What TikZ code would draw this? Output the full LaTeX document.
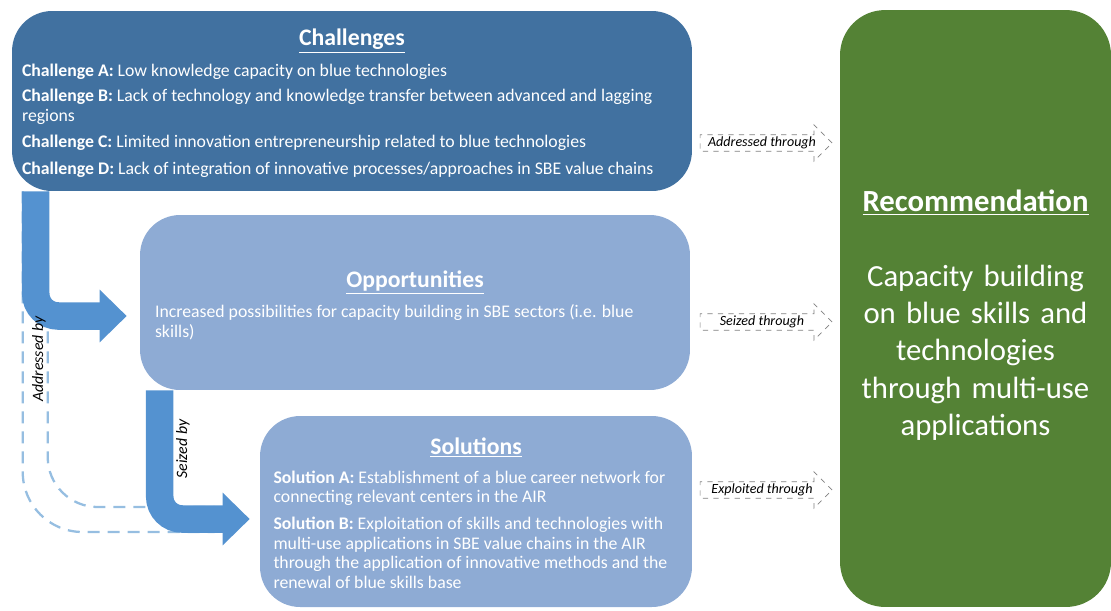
\documentclass[tikz,border=0pt]{standalone}
\usepackage{fontspec}
\setmainfont{Carlito}
\usepackage{xcolor}
\usepackage{tikz}
\usetikzlibrary{arrows.meta, calc, positioning, shapes.arrows}

\definecolor{chalblue}{RGB}{65,113,160}
\definecolor{lightbox}{RGB}{142,171,212}
\definecolor{arrowblue}{RGB}{84,146,208}
\definecolor{dashblue}{RGB}{150,190,225}
\definecolor{recgreen}{RGB}{84,130,53}

\newcommand{\boxtitle}[1]{{\centering\fontsize{13.5}{16}\selectfont\bfseries\underline{#1}\par}}

\tikzset{
  panel/.style={rounded corners=0.8cm, text=white, inner sep=0pt, align=flush left, font=\fontsize{10.1}{11.1}\selectfont},
  bigarrow/.style={draw=arrowblue, line width=0.55cm, rounded corners=0.45cm, -{Triangle[length=0.54cm, width=1.02cm]}},
  dashline/.style={draw=dashblue, line width=1.3pt, dash pattern=on 0.24cm off 0.16cm},
  thru/.style={single arrow, draw=gray, dashed, fill=white, minimum height=2.64cm, minimum width=0.4cm, single arrow head extend=0.2cm, inner sep=1pt, font=\fontsize{8}{9}\selectfont\itshape},
  sidelabel/.style={rotate=90, font=\fontsize{9}{10}\selectfont\itshape}
}

\begin{document}
\begin{tikzpicture}[x=0.02cm, y=-0.02cm]
\useasboundingbox (0,0) rectangle (1111,610);

% Boxes
\node[panel, fill=chalblue, minimum width=13.6cm, minimum height=3.6cm, text width=13.2cm] (chal) at (352,101) {%
\boxtitle{Challenges}\vspace{5.1pt}
\textbf{Challenge A:} Low knowledge capacity on blue technologies\par\vspace{3.4pt}
\textbf{Challenge B:} Lack of technology and knowledge transfer between advanced and lagging\\ regions\par\vspace{4pt}
\textbf{Challenge C:} Limited innovation entrepreneurship related to blue technologies\par\vspace{4pt}
\textbf{Challenge D:} Lack of integration of innovative processes/approaches in SBE value chains\par\vspace{-2.3pt}};

\node[panel, fill=lightbox, minimum width=11cm, minimum height=3.5cm, text width=10.4cm, font=\fontsize{10.1}{11.4}\selectfont] (opp) at (415,302.5) {%
\boxtitle{Opportunities}\vspace{4.6pt}
Increased possibilities for capacity building in SBE sectors (i.e. blue\\ skills)\par\vspace{-2.85pt}};

\node[panel, fill=lightbox, minimum width=8.64cm, minimum height=3.82cm, text width=8.1cm] (sol) at (476,511.5) {%
\boxtitle{Solutions}\vspace{5.4pt}
\textbf{Solution A:} Establishment of a blue career network for\\ connecting relevant centers in the AIR\par\vspace{4.4pt}
\textbf{Solution B:} Exploitation of skills and technologies with\\ multi-use applications in SBE value chains in the AIR\\ through the application of innovative methods and the\\ renewal of blue skills base\par\vspace{-1.7pt}};

\node[panel, fill=recgreen, rounded corners=0.9cm, minimum width=5.42cm, minimum height=11.94cm, text width=5.3cm, align=center, font=\fontsize{17.5}{21.2}\selectfont] (rec) at (975.5,308.5) {%
\rule{0pt}{19.6pt}\textbf{\underline{Recommendation}}\\[21.5pt]
Capacity building\\ on blue skills and\\ technologies\\ through multi-use\\ applications};

% Dashed arrow outline, challenges to solutions
\draw[dashline, rounded corners=1.2cm] ([xshift=0.22cm]chal.south west) |- ([xshift=-0.9cm,yshift=-0.41cm]sol.west);
\draw[dashline, rounded corners=1cm] ([xshift=0.72cm]chal.south west) |- ([xshift=-0.9cm,yshift=0.09cm]sol.west);

% Block arrows
\draw[bigarrow] ([xshift=0.48cm]chal.south west) |- ([xshift=-0.26cm,yshift=-0.27cm]opp.west);
\draw[bigarrow] ([xshift=0.4cm]opp.south west) |- ([xshift=-0.2cm,yshift=-0.15cm]sol.west);

\node[sidelabel] (addrby) at (39,359) {Addressed by};
\node[sidelabel] (seizby) at (183,449) {Seized by};

% Towards the recommendation
\node[thru] (addr) at (762,143) {Addressed through};
\node[thru] (seiz) at (762,322) {Seized through};
\node[thru] (expl) at (762,490) {Exploited through};

\end{tikzpicture}
\end{document}
